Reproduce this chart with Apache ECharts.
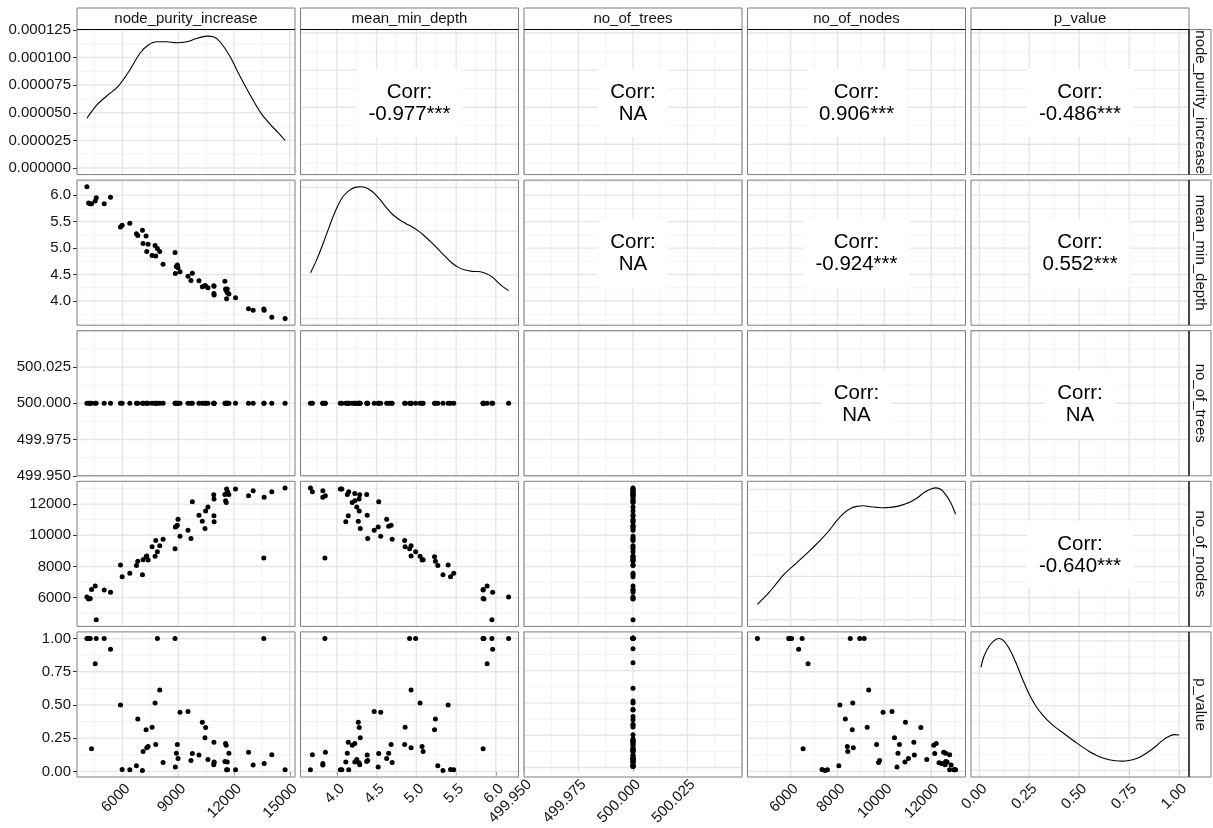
<!DOCTYPE html>
<html>
<head>
<meta charset="utf-8">
<script src="https://cdn.jsdelivr.net/npm/echarts@6/dist/echarts.min.js"></script>
<style>
  html, body { margin: 0; padding: 0; background: #fff; }
  #chart { width: 1213px; height: 828px; }
</style>
</head>
<body>
<div id="chart"></div>
<script>
// ---- variables of the pairs matrix ----
const variables = ['node_purity_increase', 'mean_min_depth', 'no_of_trees', 'no_of_nodes', 'p_value'];

// ---- one value per explanatory variable (56 rows) ----
const nodePurityIncrease = [4086, 4175, 4265, 4336, 4533, 4587, 5016, 5356, 5893, 5982, 6394, 6751, 6823, 7073, 7109, 7270, 7306, 7378, 7592, 7753, 7789, 7878, 8004, 8183, 8827, 8845, 8898, 8952, 8988, 9095, 9524, 9685, 9757, 10115, 10294, 10437, 10473, 10598, 10910, 10920, 10930, 10925, 11510, 11546, 11581, 11600, 11635, 11653, 11725, 12083, 12780, 13031, 13603, 13621, 14033, 14748];
const meanMinDepth = [6.16, 5.85, 5.84, 5.84, 5.89, 5.95, 5.84, 5.96, 5.40, 5.43, 5.47, 5.27, 5.24, 5.335, 5.085, 5.229, 4.934, 5.072, 4.859, 5.047, 4.853, 4.991, 4.934, 4.696, 4.915, 4.52, 4.652, 4.683, 4.627, 4.552, 4.470, 4.389, 4.527, 4.382, 4.270, 4.295, 4.282, 4.251, 4.288, 4.144, 4.113, 4.28, 4.376, 4.226, 4.194, 4.044, 4.226, 4.150, 4.132, 4.063, 3.856, 3.824, 3.850, 3.824, 3.693, 3.668];
const noOfTrees = [500, 500, 500, 500, 500, 500, 500, 500, 500, 500, 500, 500, 500, 500, 500, 500, 500, 500, 500, 500, 500, 500, 500, 500, 500, 500, 500, 500, 500, 500, 500, 500, 500, 500, 500, 500, 500, 500, 500, 500, 500, 500, 500, 500, 500, 500, 500, 500, 500, 500, 500, 500, 500, 500, 500, 500];
const noOfNodes = [6040, 5916, 5950, 6530, 6742, 4580, 6488, 6340, 8099, 7336, 7569, 8057, 8332, 7463, 8438, 8629, 8672, 8417, 9265, 8650, 9668, 8947, 9329, 9753, 9138, 10537, 10580, 10643, 11025, 9944, 10325, 9795, 12148, 11279, 10898, 10431, 11555, 11809, 12594, 11258, 10876, 12330, 12615, 12212, 12106, 12975, 12678, 12784, 12615, 12975, 12530, 12848, 8544, 12445, 12784, 13039];
const pValue = [1.00, 1.00, 1.00, 0.17, 0.81, 1.00, 1.00, 0.92, 0.50, 0.015, 0.0125, 0.0425, 0.395, 0.0075, 0.15, 0.3125, 0.1775, 0.1875, 0.3325, 0.515, 0.2025, 1.00, 0.6125, 0.0675, 1.00, 0.0325, 0.1375, 0.2025, 0.0975, 0.445, 0.45, 0.0825, 0.135, 0.1225, 0.37, 0.2525, 0.33, 0.09, 0.05, 0.22, 0.07, 0.065, 0.075, 0.21, 0.1975, 0.0125, 0.07, 0.0125, 0.1375, 0.0125, 0.145, 0.0475, 1.00, 0.06, 0.125, 0.0125];

// ---- kernel density curves on the diagonal ----
const densNpiX = [4086, 4613, 5151, 5777, 6404, 6942, 7390, 7841, 8379, 8917, 9455, 9993, 10531, 10886, 11247, 11784, 12322, 13038, 13478, 13925, 14372, 14748];
const densNpiY = [4.50e-5, 5.69e-5, 6.52e-5, 7.41e-5, 8.90e-5, 1.039e-4, 1.113e-4, 1.143e-4, 1.143e-4, 1.134e-4, 1.143e-4, 1.173e-4, 1.194e-4, 1.188e-4, 1.143e-4, 1.009e-4, 8.30e-5, 6.10e-5, 4.90e-5, 4.00e-5, 3.20e-5, 2.50e-5];
const densMmdX = [3.670, 3.741, 3.824, 3.908, 3.991, 4.074, 4.158, 4.241, 4.304, 4.366, 4.449, 4.533, 4.616, 4.699, 4.783, 4.866, 4.949, 5.033, 5.116, 5.199, 5.283, 5.366, 5.449, 5.533, 5.616, 5.699, 5.783, 5.866, 5.949, 6.033, 6.095, 6.160];
const densMmdY = [0.210, 0.264, 0.340, 0.423, 0.499, 0.556, 0.586, 0.601, 0.603, 0.598, 0.580, 0.548, 0.511, 0.477, 0.453, 0.435, 0.419, 0.399, 0.373, 0.345, 0.314, 0.283, 0.254, 0.233, 0.222, 0.216, 0.215, 0.207, 0.192, 0.163, 0.144, 0.128];
const densNodesX = [4580, 4791, 5079, 5367, 5654, 5942, 6230, 6518, 6806, 7093, 7381, 7669, 7957, 8245, 8532, 8820, 9108, 9396, 9684, 9971, 10259, 10547, 10835, 11123, 11410, 11698, 11986, 12202, 12418, 12633, 12849, 13039];
const densNodesY = [1.78e-5, 2.35e-5, 3.15e-5, 4.10e-5, 5.05e-5, 5.81e-5, 6.49e-5, 7.21e-5, 7.94e-5, 8.70e-5, 9.49e-5, 1.037e-4, 1.139e-4, 1.223e-4, 1.280e-4, 1.306e-4, 1.314e-4, 1.302e-4, 1.295e-4, 1.291e-4, 1.295e-4, 1.306e-4, 1.329e-4, 1.359e-4, 1.405e-4, 1.466e-4, 1.507e-4, 1.519e-4, 1.500e-4, 1.435e-4, 1.340e-4, 1.215e-4];
const densPX = [0.0075, 0.022, 0.047, 0.072, 0.097, 0.122, 0.147, 0.181, 0.214, 0.247, 0.281, 0.314, 0.348, 0.381, 0.415, 0.448, 0.482, 0.515, 0.548, 0.582, 0.615, 0.649, 0.682, 0.716, 0.749, 0.783, 0.816, 0.849, 0.883, 0.916, 0.950, 0.975, 1.000];
const densPY = [1.591, 1.754, 1.908, 2.000, 2.036, 2.000, 1.893, 1.678, 1.422, 1.192, 1.003, 0.864, 0.752, 0.665, 0.588, 0.512, 0.435, 0.363, 0.297, 0.240, 0.194, 0.164, 0.148, 0.143, 0.153, 0.179, 0.225, 0.292, 0.373, 0.460, 0.527, 0.552, 0.547];

// ---- tick labels ----
const npiTicks = ['6000', '9000', '12000', '15000'];
const mmdTicks = ['4.0', '4.5', '5.0', '5.5', '6.0'];
const treesTicks = ['499.950', '499.975', '500.000', '500.025'];
const nodesTicks = ['6000', '8000', '10000', '12000'];
const pTicks = ['0.00', '0.25', '0.50', '0.75', '1.00'];
const densNpiTicks = ['0.000000', '0.000025', '0.000050', '0.000075', '0.000100', '0.000125'];
const densMmdTicks = [0, 0.2, 0.4, 0.6];
const densNodesTicks = [0, 5e-5, 1e-4, 1.5e-4];
const densPTicks = [0, 0.5, 1, 1.5, 2];

// ---- correlation labels of the upper triangle ----
const corrLabels = {
  '0-1': '-0.977***', '0-2': 'NA', '0-3': '0.906***', '0-4': '-0.486***',
  '1-2': 'NA', '1-3': '-0.924***', '1-4': '0.552***',
  '2-3': 'NA', '2-4': 'NA',
  '3-4': '-0.640***'
};

// ---------------------------------------------------------------
const columns = [nodePurityIncrease, meanMinDepth, noOfTrees, noOfNodes, pValue];
const tickLabels = [npiTicks, mmdTicks, treesTicks, nodesTicks, pTicks];
const densities = [
  { x: densNpiX, y: densNpiY, ticks: densNpiTicks.map(Number) },
  { x: densMmdX, y: densMmdY, ticks: densMmdTicks },
  null,
  { x: densNodesX, y: densNodesY, ticks: densNodesTicks },
  { x: densPX, y: densPY, ticks: densPTicks }
];

const FONT = '"Liberation Sans", Arial, Helvetica, sans-serif';
const TEXT_COLOR = '#141414';
const N = variables.length;
const panelLeft = 77, panelTop = 29.5, panelW = 218, panelH = 145.1, gap = 5.5;
const stripH = 21.5, stripW = 22;

function cellRect(r, c) {
  return { x: panelLeft + c * (panelW + gap), y: panelTop + r * (panelH + gap), w: panelW, h: panelH };
}

// ggplot-like limits: data range widened by 5% on each side
function limits(arr) {
  const lo = Math.min(...arr), hi = Math.max(...arr);
  if (hi === lo) return [lo - 0.05, hi + 0.05];
  const pad = (hi - lo) * 0.05;
  return [lo - pad, hi + pad];
}
function densLimits(d) {
  const m = Math.max(...d.y);
  return [-0.05 * m, 1.05 * m];
}
// major breaks extended to the limits, plus the minor breaks between them
function gridBreaks(majors, lo, hi) {
  const step = majors[1] - majors[0];
  const eps = step * 1e-6;
  const all = majors.slice();
  while (all[0] - step >= lo - eps) all.unshift(all[0] - step);
  while (all[all.length - 1] + step <= hi + eps) all.push(all[all.length - 1] + step);
  const minor = [];
  for (let v = all[0] - step / 2; v <= hi + eps; v += step) {
    if (v >= lo - eps) minor.push(v);
  }
  return { major: all, minor };
}
function labelFormatter(labels) {
  const vals = labels.map(Number);
  return function (v) {
    let best = 0;
    for (let i = 1; i < vals.length; i++) {
      if (Math.abs(vals[i] - v) < Math.abs(vals[best] - v)) best = i;
    }
    return labels[best];
  };
}

const varLimits = columns.map(limits);

const grids = [], xAxes = [], yAxes = [], series = [], graphics = [];

for (let r = 0; r < N; r++) {
  for (let c = 0; c < N; c++) {
    const idx = r * N + c;
    const rect = cellRect(r, c);
    grids.push({ left: rect.x, top: rect.y, width: rect.w, height: rect.h, show: false });

    const xLim = varLimits[c];
    const xMaj = tickLabels[c].map(Number);
    let yLim, yMaj, yLabels;
    const diagDens = (r === c) ? densities[r] : null;
    if (diagDens) {
      yLim = densLimits(diagDens);
      yMaj = diagDens.ticks;
      yLabels = (r === 0) ? densNpiTicks : null;
    } else {
      yLim = varLimits[r];
      yMaj = tickLabels[r].map(Number);
      yLabels = tickLabels[r];
    }

    const showX = (r === N - 1);
    const showY = (c === 0);
    xAxes.push({
      gridIndex: idx, type: 'value', min: xLim[0], max: xLim[1],
      axisLine: { show: false }, splitLine: { show: false },
      axisTick: { show: showX, customValues: xMaj, length: 4, lineStyle: { color: '#333', width: 1 } },
      axisLabel: {
        show: showX, customValues: xMaj, formatter: labelFormatter(tickLabels[c]),
        rotate: 45, verticalAlign: 'top', fontSize: 15, color: TEXT_COLOR, fontFamily: FONT, margin: 4,
        showMinLabel: true, showMaxLabel: true
      }
    });
    yAxes.push({
      gridIndex: idx, type: 'value', min: yLim[0], max: yLim[1],
      axisLine: { show: false }, splitLine: { show: false },
      axisTick: { show: showY, customValues: yMaj, length: 4, lineStyle: { color: '#333', width: 1 } },
      axisLabel: {
        show: showY && !!yLabels, customValues: yMaj,
        formatter: yLabels ? labelFormatter(yLabels) : null,
        fontSize: 15, color: TEXT_COLOR, fontFamily: FONT, margin: 6,
        showMinLabel: true, showMaxLabel: true
      }
    });

    // background grid lines of the panel
    const gx = gridBreaks(xMaj, xLim[0], xLim[1]);
    const gy = gridBreaks(yMaj, yLim[0], yLim[1]);
    const xMid = (xLim[0] + xLim[1]) / 2, yMid = (yLim[0] + yLim[1]) / 2;
    const gData = [];
    gx.minor.forEach(v => gData.push([v, yMid, 1]));
    gy.minor.forEach(v => gData.push([xMid, v, 3]));
    gx.major.forEach(v => gData.push([v, yMid, 0]));
    gy.major.forEach(v => gData.push([xMid, v, 2]));
    series.push({
      type: 'custom', xAxisIndex: idx, yAxisIndex: idx, silent: true, z: 1,
      clip: false, animation: false, data: gData,
      renderItem: function (params, api) {
        const cs = params.coordSys;
        const p = api.coord([api.value(0), api.value(1)]);
        const kind = api.value(2);
        const minor = (kind === 1 || kind === 3);
        const shape = (kind < 2)
          ? { x1: p[0], y1: cs.y, x2: p[0], y2: cs.y + cs.height }
          : { x1: cs.x, y1: p[1], x2: cs.x + cs.width, y2: p[1] };
        return {
          type: 'line', shape: shape,
          style: { stroke: minor ? '#F0F0F0' : '#E6E6E6', lineWidth: minor ? 0.9 : 1.4 }
        };
      }
    });

    if (r > c) {
      const pts = columns[c].map((v, k) => [v, columns[r][k]]);
      series.push({
        type: 'scatter', xAxisIndex: idx, yAxisIndex: idx, data: pts,
        symbol: 'circle', symbolSize: 5, itemStyle: { color: '#000', opacity: 1 },
        z: 3, silent: true, animation: false
      });
    } else if (diagDens) {
      series.push({
        type: 'line', xAxisIndex: idx, yAxisIndex: idx,
        data: diagDens.x.map((v, k) => [v, diagDens.y[k]]),
        showSymbol: false, smooth: 0.35,
        lineStyle: { color: '#000', width: 1.1 }, z: 3, silent: true, animation: false
      });
    } else if (r < c) {
      graphics.push({
        type: 'text', z: 50, silent: true,
        x: rect.x + rect.w / 2, y: rect.y + rect.h / 2 + 1,
        style: {
          text: 'Corr:\n' + corrLabels[r + '-' + c],
          fontSize: 20.5, lineHeight: 22, fontFamily: FONT, fill: '#000',
          align: 'center', verticalAlign: 'middle',
          backgroundColor: '#fff', padding: [12, 12]
        }
      });
    }

    // panel border
    graphics.push({
      type: 'rect', z: 100, silent: true,
      shape: { x: rect.x, y: rect.y, width: rect.w, height: rect.h },
      style: { fill: null, stroke: '#7d7d7d', lineWidth: 1 }
    });
  }
}

// strips: column names on top, row names on the right
for (let c = 0; c < N; c++) {
  const rect = cellRect(0, c);
  graphics.push({
    type: 'rect', z: 100, silent: true,
    shape: { x: rect.x, y: rect.y - stripH, width: rect.w, height: stripH },
    style: { fill: '#fff', stroke: '#7d7d7d', lineWidth: 1 }
  });
  graphics.push({
    type: 'line', z: 101, silent: true,
    shape: { x1: rect.x, y1: rect.y, x2: rect.x + rect.w, y2: rect.y },
    style: { stroke: '#000', lineWidth: 1.2 }
  });
  graphics.push({
    type: 'text', z: 102, silent: true,
    x: rect.x + rect.w / 2, y: rect.y - stripH / 2,
    style: { text: variables[c], fontSize: 15, fontFamily: FONT, fill: TEXT_COLOR, align: 'center', verticalAlign: 'middle' }
  });
}
for (let r = 0; r < N; r++) {
  const rect = cellRect(r, N - 1);
  const sx = rect.x + rect.w;
  graphics.push({
    type: 'rect', z: 100, silent: true,
    shape: { x: sx, y: rect.y, width: stripW, height: rect.h },
    style: { fill: '#fff', stroke: '#7d7d7d', lineWidth: 1 }
  });
  graphics.push({
    type: 'line', z: 101, silent: true,
    shape: { x1: sx, y1: rect.y, x2: sx, y2: rect.y + rect.h },
    style: { stroke: '#000', lineWidth: 1.2 }
  });
  graphics.push({
    type: 'text', z: 102, silent: true,
    x: sx + stripW / 2, y: rect.y + rect.h / 2,
    rotation: -Math.PI / 2,
    style: { text: variables[r], fontSize: 15, fontFamily: FONT, fill: TEXT_COLOR, align: 'center', verticalAlign: 'middle' }
  });
}

const chart = echarts.init(document.getElementById('chart'), null, { renderer: 'canvas' });
chart.setOption({
  backgroundColor: '#fff',
  animation: false,
  textStyle: { fontFamily: FONT },
  grid: grids,
  xAxis: xAxes,
  yAxis: yAxes,
  series: series,
  graphic: { elements: graphics }
});
</script>
</body>
</html>
